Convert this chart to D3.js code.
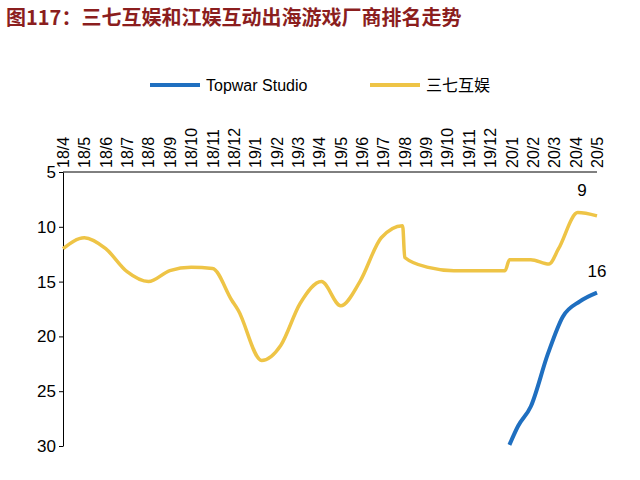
<!DOCTYPE html><html><head><meta charset="utf-8"><script src="https://cdn.jsdelivr.net/npm/d3@7"></script>
<style>body{margin:0;background:#fff}</style></head><body><svg id="c" width="640" height="480"></svg>
<script>
const categories=["18/4","18/5","18/6","18/7","18/8","18/9","18/10","18/11","18/12","19/1","19/2","19/3","19/4","19/5","19/6","19/7","19/8","19/9","19/10","19/11","19/12","20/1","20/2","20/3","20/4","20/5"];
const yTicks=[5,10,15,20,25,30];
const sanqiX=[0,1,2,3,4,5,6,7,7.9,8.2,9.3,10.2,11.1,12.1,13,13.9,14.9,15.9,16.0,17.1,18.3,20.7,20.9,21.9,22.75,23.2,24.1,25];
const sanqiY=[12,11,12,14.1,15,14,13.7,13.8,16.7,17.6,22.2,20.8,17,15,17.2,15,11,9.9,12.8,13.7,14,14,13,13,13.4,12,8.7,9];
const topwarX=[20.9,21.3,21.9,22.7,23.4,24.2,25];
const topwarY=[29.9,28.2,26.4,21.6,18.2,16.8,16];
const svg=d3.select("#c");
svg.append("text").attr("x",6).attr("y",25).attr("fill","#8b1e1e").attr("font-size",20).attr("font-weight","bold").attr("font-family","Noto Sans CJK SC").text("图117：三七互娱和江娱互动出海游戏厂商排名走势");
const x=d3.scaleLinear().domain([0,25]).range([63,597]);
const y=d3.scaleLinear().domain([5,30]).range([172,446]);
svg.append("g").attr("transform","translate(63,0)").call(d3.axisLeft(y).tickValues(yTicks).tickSize(4).tickSizeOuter(0))
 .call(g=>{g.selectAll("text").attr("font-size",17).attr("font-family","Liberation Sans").attr("fill","#000");g.select(".domain").attr("stroke","#000");});
svg.append("line").attr("x1",63).attr("x2",597).attr("y1",172).attr("y2",172).attr("stroke","#000");
svg.append("g").selectAll("text").data(categories).join("text")
 .attr("transform",(d,i)=>`translate(${x(i)+6},168) rotate(-90)`).attr("font-size",16).attr("font-family","Liberation Sans").text(d=>d);
const line=d3.line().curve(d3.curveMonotoneX).x(d=>x(d[0])).y(d=>y(d[1]));
svg.append("path").datum(sanqiX.map((v,i)=>[v,sanqiY[i]])).attr("d",line).attr("fill","none").attr("stroke","#eec446").attr("stroke-width",3.5);
svg.append("path").datum(topwarX.map((v,i)=>[v,topwarY[i]])).attr("d",line).attr("fill","none").attr("stroke","#1f6fc0").attr("stroke-width",4);
svg.append("text").attr("x",x(24.3)).attr("y",y(7.2)).attr("text-anchor","middle").attr("font-size",17).attr("font-family","Liberation Sans").text("9");
svg.append("text").attr("x",x(25)).attr("y",y(14.6)).attr("text-anchor","middle").attr("font-size",17).attr("font-family","Liberation Sans").text("16");
const leg=[["Topwar Studio","#1f6fc0",150],["三七互娱","#eec446",370]];
leg.forEach(([t,c,lx])=>{svg.append("line").attr("x1",lx).attr("x2",lx+50).attr("y1",85).attr("y2",85).attr("stroke",c).attr("stroke-width",4);
 svg.append("text").attr("x",lx+56).attr("y",91).attr("font-size",16).attr("font-family","Liberation Sans, Noto Sans CJK SC").text(t);});
</script></body></html>
